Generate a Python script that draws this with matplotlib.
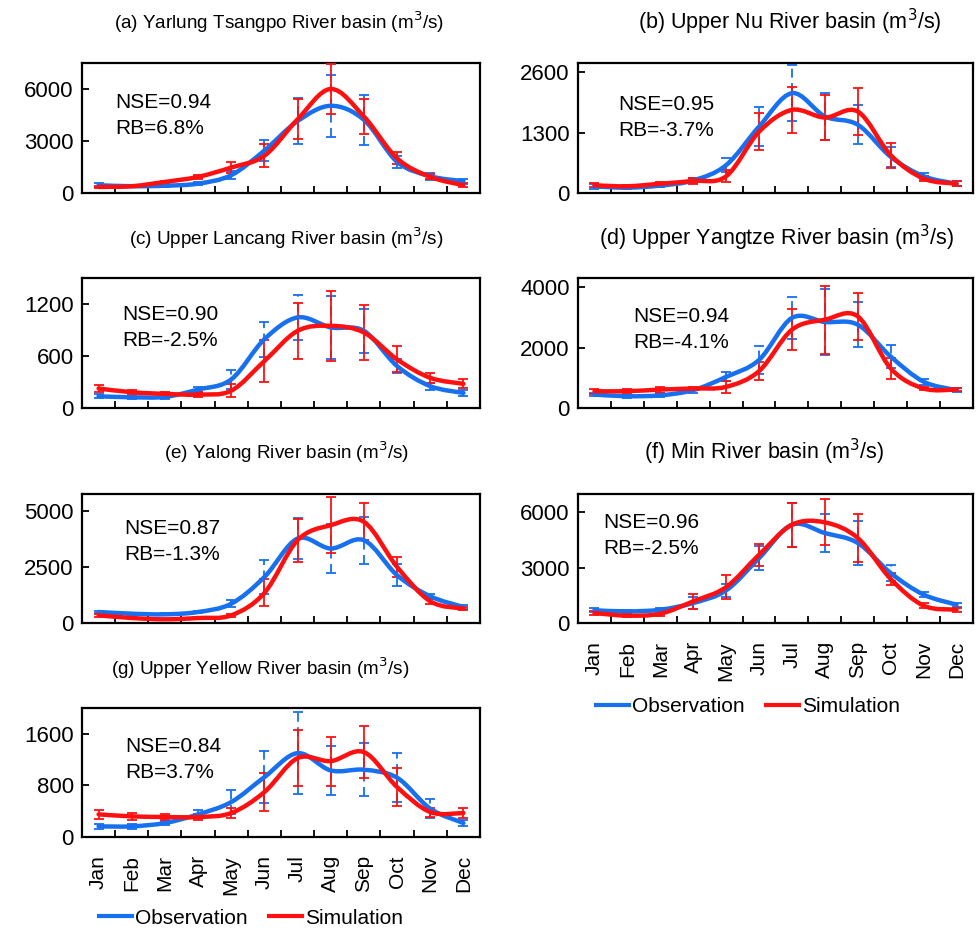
import matplotlib
matplotlib.use("Agg")
import matplotlib.pyplot as plt
from matplotlib.path import Path
from matplotlib.patches import PathPatch
from matplotlib.lines import Line2D
import numpy as np

plt.rcParams['font.family'] = ['Liberation Sans', 'DejaVu Sans']

months = ["Jan", "Feb", "Mar", "Apr", "May", "Jun", "Jul", "Aug", "Sep", "Oct", "Nov", "Dec"]

titles = ["(a) Yarlung Tsangpo River basin (m$^3$/s)",
          "(b) Upper Nu River basin (m$^3$/s)",
          "(c) Upper Lancang River basin (m$^3$/s)",
          "(d) Upper Yangtze River basin (m$^3$/s)",
          "(e) Yalong River basin (m$^3$/s)",
          "(f) Min River basin (m$^3$/s)",
          "(g) Upper Yellow River basin (m$^3$/s)"]
nse = ["0.94", "0.95", "0.90", "0.94", "0.87", "0.96", "0.84"]
rb = ["6.8%", "-3.7%", "-2.5%", "-4.1%", "-1.3%", "-2.5%", "3.7%"]

obs_a = [450, 390, 420, 540, 1030, 2450, 4150, 5030, 4220, 1800, 970, 680]
sim_a = [350, 390, 640, 930, 1470, 2150, 4250, 6000, 4410, 2000, 930, 450]
obs_err_a = [120, 60, 60, 80, 250, 600, 1350, 1800, 1450, 350, 200, 150]
sim_err_a = [80, 60, 80, 100, 300, 650, 1150, 1450, 1000, 350, 150, 100]

obs_b = [140, 115, 160, 270, 600, 1430, 2150, 1650, 1470, 780, 360, 200]
sim_b = [165, 145, 200, 260, 360, 1320, 1790, 1625, 1755, 815, 310, 200]
obs_err_b = [50, 30, 40, 60, 150, 420, 600, 500, 420, 220, 80, 50]
sim_err_b = [40, 30, 40, 60, 130, 400, 500, 480, 500, 270, 60, 50]

obs_c = [135, 124, 128, 213, 330, 794, 1045, 930, 890, 484, 252, 174]
sim_c = [225, 182, 163, 155, 200, 542, 890, 948, 871, 561, 348, 279]
obs_err_c = [25, 20, 20, 30, 110, 200, 260, 360, 250, 80, 40, 30]
sim_err_c = [40, 30, 25, 25, 75, 240, 320, 400, 320, 150, 60, 50]

obs_d = [444, 390, 420, 590, 1030, 1590, 2980, 2845, 2755, 1700, 870, 590]
sim_d = [555, 555, 610, 645, 700, 1220, 2590, 2920, 3030, 1310, 645, 610]
obs_err_d = [60, 50, 60, 80, 150, 450, 700, 1100, 750, 390, 100, 60]
sim_err_d = [80, 60, 100, 60, 200, 300, 670, 1130, 780, 350, 60, 60]

obs_e = [490, 415, 387, 490, 860, 2050, 3765, 3320, 3690, 2130, 1190, 714]
sim_e = [342, 223, 164, 223, 342, 1340, 3690, 4360, 4510, 2500, 967, 640]
obs_err_e = [60, 40, 40, 60, 150, 770, 930, 1100, 1050, 500, 120, 80]
sim_err_e = [60, 40, 30, 40, 80, 600, 950, 1250, 830, 430, 100, 80]

obs_f = [690, 630, 720, 1085, 1770, 3520, 5330, 4880, 4340, 2710, 1540, 995]
sim_f = [540, 400, 506, 1175, 1950, 3700, 5330, 5460, 4610, 2390, 940, 723]
obs_err_f = [100, 80, 100, 300, 350, 650, 1200, 1050, 1200, 450, 150, 100]
sim_err_f = [100, 80, 100, 400, 630, 580, 1200, 1250, 1280, 350, 150, 100]

obs_g = [165, 165, 217, 351, 542, 929, 1300, 1032, 1043, 919, 439, 217]
sim_g = [351, 320, 310, 310, 372, 697, 1223, 1177, 1316, 774, 387, 372]
obs_err_g = [40, 40, 30, 60, 190, 400, 640, 380, 410, 380, 150, 50]
sim_err_g = [70, 50, 50, 40, 70, 290, 430, 380, 400, 290, 70, 70]

obs_all = [obs_a, obs_b, obs_c, obs_d, obs_e, obs_f, obs_g]
sim_all = [sim_a, sim_b, sim_c, sim_d, sim_e, sim_f, sim_g]
obs_err_all = [obs_err_a, obs_err_b, obs_err_c, obs_err_d, obs_err_e, obs_err_f, obs_err_g]
sim_err_all = [sim_err_a, sim_err_b, sim_err_c, sim_err_d, sim_err_e, sim_err_f, sim_err_g]

ymax = [7500, 2800, 1500, 4300, 5750, 7000, 2000]
yticks = [[0, 3000, 6000], [0, 1300, 2600], [0, 600, 1200], [0, 2000, 4000],
          [0, 2500, 5000], [0, 3000, 6000], [0, 800, 1600]]

W, H = 979, 932
BLUE = "#1670f0"
RED = "#ff1010"

fig = plt.figure(figsize=(W / 100, H / 100), dpi=100)

cols = [(82, 480), (578, 973)]
rows = [(63, 193), (278, 408), (494, 623), (708, 837)]
title_pos = [(279, 22), (790, 22), (286, 238), (777, 238), (287, 452), (764, 452), (260, 668)]
title_size = [13.6, 15.5, 13.6, 15.5, 13.6, 15.5, 13.6]
ann_pos = [(115, 102), (618, 105), (122, 315), (633, 317), (124, 529), (603, 522), (125, 747)]


def smooth_path(x, y):
    x = np.asarray(x, float)
    y = np.asarray(y, float)
    n = len(x)
    verts = [(x[0], y[0])]
    codes = [Path.MOVETO]
    for i in range(n - 1):
        xm, ym = (x[i - 1], y[i - 1]) if i > 0 else (x[i], y[i])
        xp, yp = (x[i + 2], y[i + 2]) if i + 2 < n else (x[i + 1], y[i + 1])
        c1 = (x[i] + (x[i + 1] - xm) / 6, y[i] + (y[i + 1] - ym) / 6)
        c2 = (x[i + 1] - (xp - x[i]) / 6, y[i + 1] - (yp - y[i]) / 6)
        verts += [c1, c2, (x[i + 1], y[i + 1])]
        codes += [Path.CURVE4] * 3
    return Path(verts, codes)


xs = np.arange(12)
for k in range(7):
    r, c = divmod(k, 2)
    x0, x1 = cols[c]
    y0, y1 = rows[r]
    ax = fig.add_axes([x0 / W, 1 - y1 / H, (x1 - x0) / W, (y1 - y0) / H])
    ax.set_xlim(-0.5, 11.5)
    ax.set_ylim(0, ymax[k])
    eb = ax.errorbar(xs, obs_all[k], yerr=obs_err_all[k], fmt='none', ecolor=BLUE,
                     elinewidth=1.3, capsize=3.5, capthick=1.3, zorder=2)
    eb[2][0].set_linestyle((0, (5, 3)))
    ax.errorbar(xs, sim_all[k], yerr=sim_err_all[k], fmt='none', ecolor=RED,
                elinewidth=1.3, capsize=3.5, capthick=1.3, zorder=3)
    ax.add_patch(PathPatch(smooth_path(xs, obs_all[k]), facecolor='none', edgecolor=BLUE,
                           lw=3.2, zorder=4, capstyle='round'))
    ax.add_patch(PathPatch(smooth_path(xs, sim_all[k]), facecolor='none', edgecolor=RED,
                           lw=3.2, zorder=5, capstyle='round'))
    ax.set_yticks(yticks[k])
    ax.set_yticklabels([str(v) for v in yticks[k]], fontsize=16)
    ax.tick_params(axis='y', direction='in', length=5, width=1.3, pad=6)
    ax.set_xticks(xs)
    ax.set_xticks(np.arange(0.5, 11, 1), minor=True)
    ax.tick_params(axis='x', which='major', length=0, pad=13)
    ax.tick_params(axis='x', which='minor', direction='in', length=5, width=1.3)
    if k in (5, 6):
        ax.set_xticklabels(months, rotation=90, fontsize=15)
    else:
        ax.set_xticklabels([])
    for s in ax.spines.values():
        s.set_linewidth(1.6)
    tx, ty = title_pos[k]
    fig.text(tx / W, 1 - ty / H, titles[k], ha='center', va='center', fontsize=title_size[k])
    axx, axy = ann_pos[k]
    fig.text(axx / W, 1 - axy / H, "NSE=" + nse[k], ha='left', va='center', fontsize=15)
    fig.text(axx / W, 1 - (axy + 26) / H, "RB=" + rb[k], ha='left', va='center', fontsize=15)

handles = [Line2D([], [], color=BLUE, lw=3), Line2D([], [], color=RED, lw=3)]
labels = ["Observation", "Simulation"]
for (lx, ly) in [(251, 918), (748, 707)]:
    fig.legend(handles, labels, loc='center', bbox_to_anchor=(lx / W, 1 - ly / H), ncol=2,
               frameon=False, fontsize=15, handlelength=1.6, handletextpad=0.15,
               columnspacing=1.0, borderpad=0, borderaxespad=0)

fig.savefig("out.png", dpi=100)
